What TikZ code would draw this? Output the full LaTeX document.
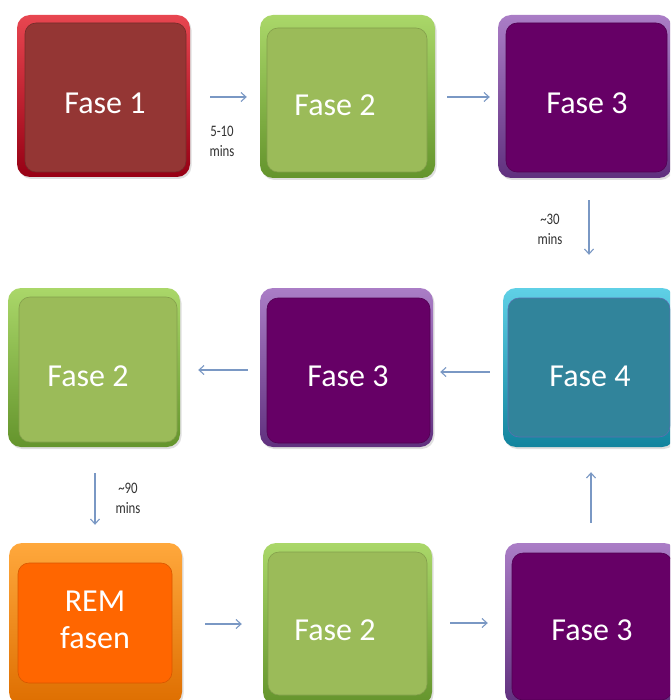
\documentclass[tikz,border=0pt]{standalone}
\usepackage{fontspec}
\setmainfont{Carlito}
\newfontfamily\smallfont[FakeStretch=0.8]{Carlito}
\usetikzlibrary{arrows.meta,shadows}

\definecolor{arrowc}{RGB}{122,152,196}
\definecolor{labelgray}{RGB}{50,50,50}
\definecolor{redin}{HTML}{943634}
\definecolor{greenin}{HTML}{9BBB59}
\definecolor{purplein}{HTML}{660066}
\definecolor{tealin}{HTML}{31849B}
\definecolor{orangein}{HTML}{FF6600}

\begin{document}
\begin{tikzpicture}[x=1pt,y=-1pt,
  outerbox/.style={rectangle, rounded corners=13pt, inner sep=0pt,
    drop shadow={opacity=0.25, shadow xshift=1.5pt, shadow yshift=-2pt}},
  innerbox/.style={rectangle, rounded corners=11pt, inner sep=0pt, line width=0.6pt},
  redouter/.style={top color={rgb,255:red,232;green,70;blue,80}, middle color={rgb,255:red,205;green,22;blue,38}, bottom color={rgb,255:red,150;green,0;blue,20}},
  greenouter/.style={top color={rgb,255:red,170;green,215;blue,105}, middle color={rgb,255:red,140;green,198;blue,63}, bottom color={rgb,255:red,100;green,148;blue,44}},
  purpleouter/.style={top color={rgb,255:red,170;green,125;blue,198}, middle color={rgb,255:red,138;green,84;blue,172}, bottom color={rgb,255:red,96;green,48;blue,126}},
  tealouter/.style={top color={rgb,255:red,95;green,208;blue,230}, middle color={rgb,255:red,32;green,178;blue,206}, bottom color={rgb,255:red,18;green,132;blue,158}},
  orangeouter/.style={top color={rgb,255:red,255;green,168;blue,60}, middle color={rgb,255:red,255;green,140;blue,16}, bottom color={rgb,255:red,222;green,110;blue,0}},
  phasetext/.style={text=white, font=\fontsize{32}{37}\selectfont, align=center},
  timetext/.style={text=labelgray, font=\smallfont\fontsize{16}{20}\selectfont, align=center},
  arr/.style={draw=arrowc, line width=1.1pt, -{Straight Barb[length=5pt,width=9pt]}}
]
\useasboundingbox (0,0) rectangle (670,700);
\clip (0,0) rectangle (670,700);
\fill[white] (0,0) rectangle (670,700);

% Row 1
\node[outerbox, redouter, minimum width=173pt, minimum height=162pt] (o1) at (103.5,96) {};
\node[innerbox, fill=redin, draw=redin!80!black, minimum width=161pt, minimum height=149pt] (f1) at (105.5,97.5) {};
\node[phasetext] (t1) at (105,103) {Fase 1};

\node[outerbox, greenouter, minimum width=175pt, minimum height=163pt] (o2) at (347.5,96.5) {};
\node[innerbox, fill=greenin, draw=greenin!85!black, minimum width=160pt, minimum height=144pt] (f2) at (347,100) {};
\node[phasetext] (t2) at (335,105) {Fase 2};

\node[outerbox, purpleouter, minimum width=174pt, minimum height=163pt] (o3) at (585,96.5) {};
\node[innerbox, fill=purplein, draw=purplein!80!black, minimum width=161pt, minimum height=149pt] (f3) at (586.5,97.5) {};
\node[phasetext] (t3) at (587,103) {Fase 3};

% Row 2
\node[outerbox, greenouter, minimum width=172pt, minimum height=159pt] (o4) at (94,367.5) {};
\node[innerbox, fill=greenin, draw=greenin!85!black, minimum width=158pt, minimum height=145pt] (f4) at (98,369.5) {};
\node[phasetext] (t4) at (88,376) {Fase 2};

\node[outerbox, purpleouter, minimum width=173pt, minimum height=159pt] (o5) at (346.5,367.5) {};
\node[innerbox, fill=purplein, draw=purplein!80!black, minimum width=163pt, minimum height=145pt] (f5) at (348.5,370.5) {};
\node[phasetext] (t5) at (348,376) {Fase 3};

\node[outerbox, tealouter, minimum width=172pt, minimum height=159pt] (o6) at (589,367.5) {};
\node[innerbox, fill=tealin, draw={rgb,255:red,90;green,111;blue,176}, minimum width=162pt, minimum height=139pt] (f6) at (589,367.5) {};
\node[phasetext] (t6) at (590,376) {Fase 4};

% Row 3
\node[outerbox, orangeouter, minimum width=173pt, minimum height=162pt] (o7) at (95.5,624) {};
\node[innerbox, fill=orangein, draw=orangein!85!black, minimum width=154pt, minimum height=120pt] (f7) at (95,623) {};
\node[phasetext] (t7) at (95,620) {REM\\fasen};

\node[outerbox, greenouter, minimum width=169pt, minimum height=162pt] (o8) at (347.5,624) {};
\node[innerbox, fill=greenin, draw=greenin!85!black, minimum width=159pt, minimum height=143pt] (f8) at (347.5,623.5) {};
\node[phasetext] (t8) at (335,630) {Fase 2};

\node[outerbox, purpleouter, minimum width=172pt, minimum height=162pt] (o9) at (591,624) {};
\node[innerbox, fill=purplein, draw=purplein!80!black, minimum width=160pt, minimum height=147pt] (f9) at (592,626.5) {};
\node[phasetext] (t9) at (592,630) {Fase 3};

% Connectors
\draw[arr] ([xshift=20pt,yshift=-1pt]o1.east) -- ([xshift=-13pt,yshift=-0.5pt]o2.west);
\draw[arr] ([xshift=12pt,yshift=-0.5pt]o2.east) -- ([xshift=-8pt,yshift=-0.5pt]o3.west);
\draw[arr] ([shift={(4pt,-22pt)}]o3.south) -- ([shift={(0pt,33pt)}]o6.north);
\draw[arr] ([shift={(-13pt,-4.5pt)}]o6.west) -- ([shift={(7pt,-4.5pt)}]o5.east);
\draw[arr] ([shift={(-12pt,-2.5pt)}]o5.west) -- ([shift={(18pt,-2.5pt)}]o4.east);
\draw[arr] ([shift={(1pt,-26pt)}]o4.south) -- ([shift={(-0.5pt,18pt)}]o7.north);
\draw[arr] ([xshift=23pt]o7.east) -- ([xshift=-21pt]o8.west);
\draw[arr] ([xshift=18pt,yshift=1pt]o8.east) -- ([xshift=-17pt,yshift=1pt]o9.west);
\draw[arr] ([yshift=20pt]o9.north) -- ([shift={(2pt,-25pt)}]o6.south);

% Time labels
\node[timetext] (l1) at (222,141) {5-10\\mins};
\node[timetext] (l2) at (550,229) {\textasciitilde30\\mins};
\node[timetext] (l3) at (128,498) {\textasciitilde90\\mins};
\end{tikzpicture}
\end{document}
